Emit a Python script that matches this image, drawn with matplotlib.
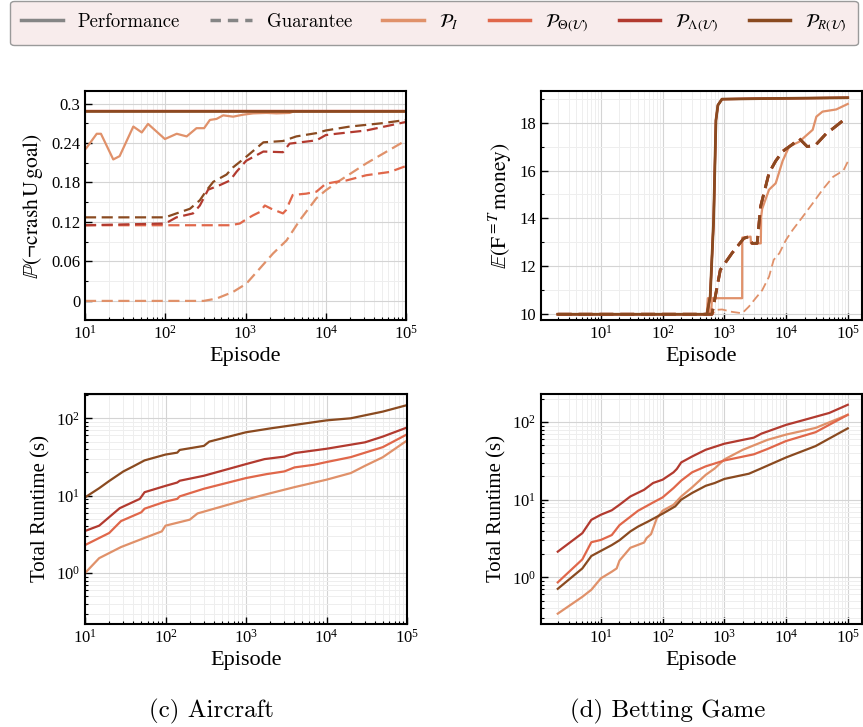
import numpy as np
import matplotlib
matplotlib.use("Agg")
import matplotlib.pyplot as plt
from matplotlib.lines import Line2D
from matplotlib.ticker import MultipleLocator, LogLocator, NullFormatter

plt.rcParams["font.family"] = ["Liberation Serif", "DejaVu Serif"]
plt.rcParams["mathtext.fontset"] = "stix"

# colours of the four variants
c_I = "#e0916a"
c_T = "#e0674a"
c_L = "#b23a2f"
c_R = "#8a4a20"

# ---- (c) Aircraft, top: probability ----
air_perf_I_x = [10, 10.5, 14, 15.8, 22.5, 27, 40, 51, 61, 99, 139, 185, 245, 305, 360, 436, 527,
                701, 935, 1245, 1830, 2430, 3550, 4000, 1e5]
air_perf_I_y = [0.23, 0.233, 0.254, 0.254, 0.215, 0.22, 0.265, 0.256, 0.269, 0.246, 0.254, 0.250,
                0.2625, 0.2625, 0.275, 0.2766, 0.282, 0.280, 0.283, 0.285, 0.2857, 0.285, 0.2857,
                0.288, 0.288]
air_perf_x = [10, 1e5]
air_perf_y = [0.288, 0.288]

air_gua_R_x = [10, 100, 138, 203, 270, 327, 397, 580, 700, 1020, 1670, 2930, 4300, 7650, 1e4, 2e4, 5e4, 1e5]
air_gua_R_y = [0.127, 0.127, 0.133, 0.140, 0.153, 0.168, 0.181, 0.192, 0.203, 0.219, 0.241, 0.243,
               0.250, 0.255, 0.259, 0.265, 0.270, 0.275]
air_gua_L_x = [10, 100, 138, 222, 270, 342, 480, 640, 770, 1020, 1670, 2930, 3540, 7650, 1e4, 1.35e4,
               3.2e4, 1e5]
air_gua_L_y = [0.115, 0.1176, 0.127, 0.133, 0.145, 0.169, 0.176, 0.183, 0.196, 0.213, 0.227, 0.226,
               0.239, 0.244, 0.252, 0.254, 0.259, 0.272]
air_gua_T_x = [10, 650, 850, 1020, 1240, 1500, 1740, 2100, 2930, 3200, 3880, 5700, 7650, 1e4, 1.35e4,
               1.8e4, 3.2e4, 6.3e4, 1e5]
air_gua_T_y = [0.115, 0.115, 0.1176, 0.124, 0.130, 0.135, 0.145, 0.140, 0.133, 0.138, 0.161, 0.163,
               0.166, 0.178, 0.181, 0.183, 0.191, 0.196, 0.205]
air_gua_I_x = [10, 300, 434, 700, 1020, 1500, 2200, 3250, 4770, 7650, 1e4, 1.5e4, 3.2e4, 1e5]
air_gua_I_y = [0, 0, 0.0035, 0.0137, 0.026, 0.049, 0.072, 0.092, 0.123, 0.156, 0.168, 0.183, 0.209, 0.244]

# ---- (d) Betting game, top: expected money ----
bet_perf_R_x = [2, 521, 590, 670, 731, 787, 916, 3215, 1e5]
bet_perf_R_y = [10, 10, 10.74, 13.9, 18.1, 18.73, 18.98, 19.0, 19.04]
bet_perf_I_x = [2, 520, 540, 555, 570, 610, 630, 1945, 1950, 2660, 2700, 3215, 3900, 3950, 4100, 5300,
                6800, 8800, 1.12e4, 1.63e4, 2.7e4, 3.1e4, 3.9e4, 6.5e4, 1e5]
bet_perf_I_y = [10, 10, 10.67, 10.67, 10, 10, 10.67, 10.67, 13.2, 13.24, 12.96, 12.96, 12.96, 14.07,
                14.4, 15.2, 15.47, 16.4, 17.0, 17.2, 17.7, 18.25, 18.46, 18.55, 18.78]
bet_gua_R_x = [2, 630, 860, 1330, 2070, 2500, 2830, 3400, 3870, 5300, 6800, 8800, 1.28e4, 1.63e4,
               2.2e4, 3.0e4, 4.5e4, 5.8e4, 8.5e4, 1e5]
bet_gua_R_y = [10, 10, 11.85, 12.55, 13.17, 13.24, 12.96, 12.96, 14.5, 15.9, 16.4, 16.8, 17.1, 17.34,
               17.0, 17.06, 17.55, 17.76, 18.1, 18.18]
bet_gua_I_x = [2, 650, 710, 920, 1330, 1945, 2500, 3215, 4100, 5300, 6300, 7800, 9950, 1.28e4, 1.86e4,
               2.7e4, 3.9e4, 5.8e4, 8.5e4, 1e5]
bet_gua_I_y = [10, 10, 10.18, 10.2, 10.1, 10.04, 10.32, 10.67, 11.0, 11.57, 12.27, 12.55, 13.1, 13.52,
               14.07, 14.63, 15.2, 15.74, 16.0, 16.37]

# ---- (c) Aircraft, bottom: runtime ----
air_rt_R_x = [10, 15, 20, 30, 40, 55, 100, 140, 150, 300, 350, 1000, 2000, 1e4, 2e4, 5e4, 1e5]
air_rt_R_y = [9.5, 12.5, 15.5, 20.6, 24, 28.6, 34, 36, 39, 44, 50, 66, 74, 94, 100, 122, 148]
air_rt_L_x = [10, 15, 27, 48, 55, 100, 140, 150, 300, 1000, 1700, 3000, 4000, 1e4, 3e4, 5e4, 1e5]
air_rt_L_y = [3.5, 4.1, 6.9, 9.1, 11.1, 13.4, 14.8, 15.6, 18.1, 25.6, 29.7, 32, 35.5, 40.4, 48.9, 58, 76]
air_rt_T_x = [10, 20, 28, 50, 55, 100, 140, 150, 300, 1000, 1800, 3000, 4000, 7000, 1e4, 2e4, 5e4, 1e5]
air_rt_T_y = [2.3, 3.3, 4.7, 6.1, 6.8, 8.4, 9.1, 9.8, 12.3, 16.9, 19.0, 20.6, 23.2, 25.1, 27.2, 31.5,
              42.4, 62]
air_rt_I_x = [10, 15, 28, 55, 90, 100, 200, 250, 1000, 1700, 4000, 1e4, 2e4, 3e4, 5e4, 1e5]
air_rt_I_y = [1.0, 1.56, 2.17, 2.85, 3.46, 4.1, 4.9, 5.9, 8.9, 10.3, 12.9, 16.1, 19.6, 24.3, 31.4, 51.6]

# ---- (d) Betting game, bottom: runtime ----
bet_rt_L_x = [2, 5, 7, 10, 15, 20, 30, 50, 70, 100, 150, 170, 200, 300, 500, 1000, 2000, 3000, 4000,
              1e4, 2e4, 5e4, 1e5]
bet_rt_L_y = [2.14, 3.7, 5.5, 6.4, 7.3, 8.6, 11, 13.4, 16.4, 18.1, 22.5, 24.9, 30.2, 36, 44, 52.6, 59,
              63, 71, 92, 107, 131, 167]
bet_rt_T_x = [2, 5, 7, 10, 15, 20, 40, 70, 100, 150, 200, 300, 500, 1000, 3000, 5000, 1e4, 3e4, 1e5]
bet_rt_T_y = [0.86, 1.7, 2.83, 3.03, 3.5, 4.7, 7.2, 9.2, 10.7, 14.1, 17.6, 22.5, 26.9, 32.0, 38.4, 45,
              57, 74, 124]
bet_rt_R_x = [2, 5, 7, 10, 15, 20, 30, 40, 60, 100, 160, 200, 300, 500, 700, 1000, 2500, 4000, 1e4,
              3e4, 1e5]
bet_rt_R_y = [0.71, 1.3, 1.88, 2.19, 2.6, 3.0, 3.9, 4.5, 5.3, 6.6, 8.2, 10, 12.2, 15.1, 16.4, 18.5,
              21.6, 25.4, 35, 49, 83]
bet_rt_I_x = [2, 5, 7, 10, 15, 18, 20, 30, 50, 55, 65, 80, 100, 150, 200, 300, 500, 700, 1000, 2000,
              5000, 1e4, 3e4, 1e5]
bet_rt_I_y = [0.34, 0.56, 0.69, 0.97, 1.18, 1.3, 1.64, 2.4, 2.8, 3.2, 3.6, 5.7, 7.2, 8.6, 11, 14.4,
              20.9, 25.3, 33, 44, 59, 69, 84, 124]


def style_axes(ax):
    ax.set_xscale("log")
    ax.grid(True, which="major", color="#d4d4d4", lw=0.8)
    ax.grid(True, which="minor", color="#eeeeee", lw=0.7)
    ax.set_axisbelow(True)
    ax.tick_params(which="both", direction="in", top=False, right=False, labelsize=12)
    ax.tick_params(which="major", length=5, width=1)
    ax.tick_params(which="minor", length=2.5, width=0.8)
    for s in ax.spines.values():
        s.set_linewidth(1.5)
    ax.xaxis.set_major_locator(LogLocator(base=10, numticks=10))
    ax.xaxis.set_minor_locator(LogLocator(base=10, subs=np.arange(2, 10), numticks=20))
    ax.xaxis.set_minor_formatter(NullFormatter())
    ax.set_xlabel("Episode", fontsize=16, labelpad=3)


W, H = 863, 727
fig = plt.figure(figsize=(W / 100, H / 100), dpi=100)


def add_ax(l, r, t, b):
    return fig.add_axes([l / W, 1 - b / H, (r - l) / W, (b - t) / H])


ax1 = add_ax(85, 406, 91, 320)
ax2 = add_ax(541, 862, 91, 320)
ax3 = add_ax(85, 407, 394, 624)
ax4 = add_ax(541, 862, 394, 624)

lw = 1.6
# top left
ax1.plot(air_gua_I_x, air_gua_I_y, color=c_I, lw=lw, ls=(0, (5, 2.5)))
ax1.plot(air_gua_T_x, air_gua_T_y, color=c_T, lw=lw, ls=(0, (5, 2.5)))
ax1.plot(air_gua_L_x, air_gua_L_y, color=c_L, lw=lw, ls=(0, (5, 2.5)))
ax1.plot(air_gua_R_x, air_gua_R_y, color=c_R, lw=lw, ls=(0, (5, 2.5)))
ax1.plot(air_perf_I_x, air_perf_I_y, color=c_I, lw=lw)
ax1.plot(air_perf_x, air_perf_y, color=c_T, lw=lw)
ax1.plot(air_perf_x, air_perf_y, color=c_L, lw=lw)
ax1.plot(air_perf_x, air_perf_y, color=c_R, lw=lw + 0.3)
style_axes(ax1)
ax1.set_xlim(10, 1e5)
ax1.set_ylim(-0.029, 0.319)
ax1.yaxis.set_minor_locator(MultipleLocator(0.03))
ax1.set_yticks([0, 0.06, 0.12, 0.18, 0.24, 0.3])
ax1.set_yticklabels(["0", "0.06", "0.12", "0.18", "0.24", "0.3"])
ax1.set_ylabel(r"$\mathbb{P}(\neg\mathrm{crash}\,\mathrm{U}\,\mathrm{goal})$", fontsize=15.5)

# top right
ax2.plot(bet_gua_I_x, bet_gua_I_y, color=c_I, lw=1.3, ls=(0, (5, 2.5)))
ax2.plot(bet_perf_I_x, bet_perf_I_y, color=c_I, lw=lw)
ax2.plot(bet_gua_R_x, bet_gua_R_y, color=c_T, lw=2.0, ls=(0, (5, 2.5)))
ax2.plot(bet_gua_R_x, bet_gua_R_y, color=c_L, lw=2.0, ls=(0, (5, 2.5)))
ax2.plot(bet_gua_R_x, bet_gua_R_y, color=c_R, lw=2.0, ls=(0, (5, 2.5)))
ax2.plot(bet_perf_R_x, bet_perf_R_y, color=c_T, lw=lw)
ax2.plot(bet_perf_R_x, bet_perf_R_y, color=c_L, lw=lw)
ax2.plot(bet_perf_R_x, bet_perf_R_y, color=c_R, lw=2.0)
style_axes(ax2)
ax2.set_xlim(1.07, 1.7e5)
ax2.set_ylim(9.76, 19.32)
ax2.yaxis.set_major_locator(MultipleLocator(2))
ax2.yaxis.set_minor_locator(MultipleLocator(1))
ax2.set_ylabel(r"$\mathbb{E}(\mathrm{F}^{=T}\,\mathrm{money})$", fontsize=15.5)

# bottom left
ax3.plot(air_rt_I_x, air_rt_I_y, color=c_I, lw=lw)
ax3.plot(air_rt_T_x, air_rt_T_y, color=c_T, lw=lw)
ax3.plot(air_rt_L_x, air_rt_L_y, color=c_L, lw=lw)
ax3.plot(air_rt_R_x, air_rt_R_y, color=c_R, lw=lw)
style_axes(ax3)
ax3.set_yscale("log")
ax3.set_xlim(10, 1e5)
ax3.set_ylim(0.22, 206)

# bottom right
ax4.plot(bet_rt_I_x, bet_rt_I_y, color=c_I, lw=lw)
ax4.plot(bet_rt_T_x, bet_rt_T_y, color=c_T, lw=lw)
ax4.plot(bet_rt_L_x, bet_rt_L_y, color=c_L, lw=lw)
ax4.plot(bet_rt_R_x, bet_rt_R_y, color=c_R, lw=lw)
style_axes(ax4)
ax4.set_yscale("log")
ax4.set_xlim(1.07, 1.7e5)
ax4.set_ylim(0.25, 230)

for ax in (ax3, ax4):
    ax.yaxis.set_major_locator(LogLocator(base=10, numticks=10))
    ax.yaxis.set_minor_locator(LogLocator(base=10, subs=np.arange(2, 10), numticks=20))
    ax.yaxis.set_minor_formatter(NullFormatter())
    ax.set_ylabel("Total Runtime (s)", fontsize=15)

# legend
handles = [
    Line2D([], [], color="#858585", lw=2.5),
    Line2D([], [], color="#858585", lw=2.5, ls=(0, (3, 2))),
    Line2D([], [], color=c_I, lw=2.5),
    Line2D([], [], color=c_T, lw=2.5),
    Line2D([], [], color=c_L, lw=2.5),
    Line2D([], [], color=c_R, lw=2.5),
]
labels = ["Performance", "Guarantee", r"$\mathcal{P}_I$", r"$\mathcal{P}_{\Theta(\mathcal{U})}$",
          r"$\mathcal{P}_{\Lambda(\mathcal{U})}$", r"$\mathcal{P}_{R(\mathcal{U})}$"]
leg = fig.legend(handles, labels, loc="center", ncol=6, mode="expand",
                 bbox_to_anchor=(10 / W, 1 - 45 / H, 848 / W, 44 / H), borderaxespad=0,
                 prop={"family": "cmr10", "size": 13.5}, handlelength=2.2, handletextpad=0.8,
                 fancybox=True, framealpha=1, facecolor="#f8ecec", edgecolor="#9a9a9a",
                 borderpad=0.6)
leg.get_frame().set_linewidth(1.0)

fig.text(211 / W, 1 - 711 / H, "(c) Aircraft", ha="center", va="center", family="cmr10", fontsize=18)
fig.text(668 / W, 1 - 711 / H, "(d) Betting Game", ha="center", va="center", family="cmr10", fontsize=18)

fig.savefig("out.png", dpi=100)
